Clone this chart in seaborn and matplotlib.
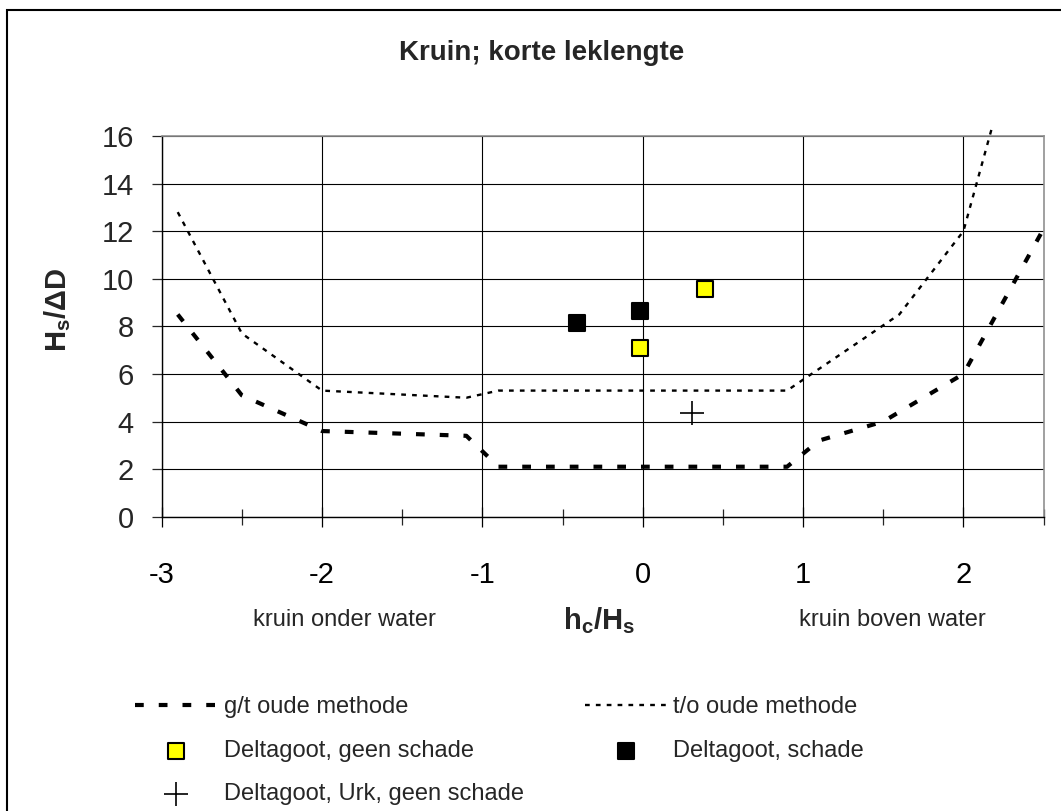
import matplotlib
matplotlib.use("Agg")
import matplotlib.pyplot as plt
import seaborn as sns
from matplotlib.patches import Rectangle
from matplotlib.ticker import MultipleLocator

# data
gt_x = [-2.9, -2.5, -2.0, -1.1, -0.9, 0.9, 1.1, 1.5, 2.0, 2.5]
gt_y = [8.5, 5.1, 3.6, 3.4, 2.1, 2.1, 3.2, 4.0, 6.0, 12.1]
to_x = [-2.9, -2.5, -2.0, -1.1, -0.9, 0.9, 1.6, 2.0, 2.18]
to_y = [12.8, 7.7, 5.3, 5.0, 5.3, 5.3, 8.5, 12.0, 16.4]
geen_x = [-0.02, 0.39]
geen_y = [7.1, 9.55]
schade_x = [-0.41, -0.02]
schade_y = [8.12, 8.64]
urk_x = [0.31]
urk_y = [4.37]

x_ticks = [-3, -2, -1, 0, 1, 2]
y_ticks = [0, 2, 4, 6, 8, 10, 12, 14, 16]

sns.set_style("white")
plt.rcParams["font.family"] = ["Liberation Sans", "DejaVu Sans"]
plt.rcParams["mathtext.fontset"] = "custom"
plt.rcParams["mathtext.rm"] = "Liberation Sans"
plt.rcParams["mathtext.bf"] = "Liberation Sans:bold"
plt.rcParams["mathtext.it"] = "Liberation Sans:italic"

W, H = 1061, 811
fig = plt.figure(figsize=(W / 100, H / 100), dpi=100)
ax = fig.add_axes([161.7 / W, 1 - 516.7 / H, 881.9 / W, 380.7 / H])

# Lines
sns.lineplot(x=gt_x, y=gt_y, sort=False, estimator=None, ax=ax, color="black",
             linewidth=3, linestyle=(0, (2.1, 3.6)), label="g/t oude methode",
             zorder=3)
sns.lineplot(x=to_x, y=to_y, sort=False, estimator=None, ax=ax, color="black",
             linewidth=1.7, linestyle=(0, (2.0, 2.6)), label="t/o oude methode",
             zorder=3, clip_on=False)

# Points
sns.scatterplot(x=geen_x, y=geen_y, ax=ax, marker="s", color="#FFFF00",
                edgecolor="black", linewidth=1.5, s=125,
                label="Deltagoot, geen schade", zorder=4)
sns.scatterplot(x=schade_x, y=schade_y, ax=ax, marker="s", color="black",
                edgecolor="black", linewidth=1.5, s=140,
                label="Deltagoot, schade", zorder=4)
sns.scatterplot(x=urk_x, y=urk_y, ax=ax, marker="+", color="black",
                linewidth=1.2, s=320, label="Deltagoot, Urk, geen schade",
                zorder=4)

ax.set_xlim(-3, 2.5)
ax.set_ylim(0, 16)
ax.set_xticks(x_ticks)
ax.set_yticks(y_ticks)
ax.xaxis.set_minor_locator(MultipleLocator(0.5))
ax.set_xticklabels([str(t) for t in x_ticks])
ax.set_yticklabels([str(t) for t in y_ticks])
ax.grid(True, which="major", color="black", linewidth=0.8)
ax.set_axisbelow(True)
ax.tick_params(axis="x", which="major", direction="inout", length=14, width=0.9,
               labelsize=21, pad=25, colors="black", bottom=True)
ax.tick_params(axis="x", which="minor", direction="inout", length=11, width=0.9,
               bottom=True)
ax.tick_params(axis="y", direction="out", length=7, width=0.9, labelsize=21,
               pad=13, left=True)
for side in ["left", "bottom"]:
    ax.spines[side].set_color("black")
    ax.spines[side].set_linewidth(1.0)
for side in ["top", "right"]:
    ax.spines[side].set_color("#909090")
    ax.spines[side].set_linewidth(1.2)
ax.set_xlabel("")
ax.set_ylabel("")

# Texts
fig.text(542 / W, 1 - 53 / H, "Kruin; korte leklengte", ha="center",
         va="center", fontsize=20, fontweight="bold")
fig.text(58 / W, 1 - 310 / H, r"$\mathbf{H_s/\Delta D}$", rotation=90,
         ha="center", va="center", fontsize=21)
fig.text(599 / W, 1 - 621 / H, r"$\mathbf{h_c/H_s}$", ha="center",
         va="center", fontsize=21)
fig.text(344 / W, 1 - 620 / H, "kruin onder water", ha="center", va="center",
         fontsize=17)
fig.text(892 / W, 1 - 620 / H, "kruin boven water", ha="center", va="center",
         fontsize=17)

# Legend, column-first order
handles, labels = ax.get_legend_handles_labels()
ax.get_legend().remove()
order = [0, 2, 4, 1, 3]
fig.legend([handles[i] for i in order], [labels[i] for i in order],
           ncol=2, loc="upper left", bbox_to_anchor=(135 / W, 1 - 696 / H),
           frameon=False, fontsize=17, handlelength=3.45, handletextpad=0.3,
           labelspacing=0.92, columnspacing=2.6, borderpad=0, borderaxespad=0)

# Outer chart border (left and top visible)
fig.patches.append(Rectangle((7 / W, -0.05), 1.2, 1 - 10 / H + 0.05,
                             transform=fig.transFigure, fill=False,
                             edgecolor="black", linewidth=1.5))

fig.savefig("out.png", dpi=100)
